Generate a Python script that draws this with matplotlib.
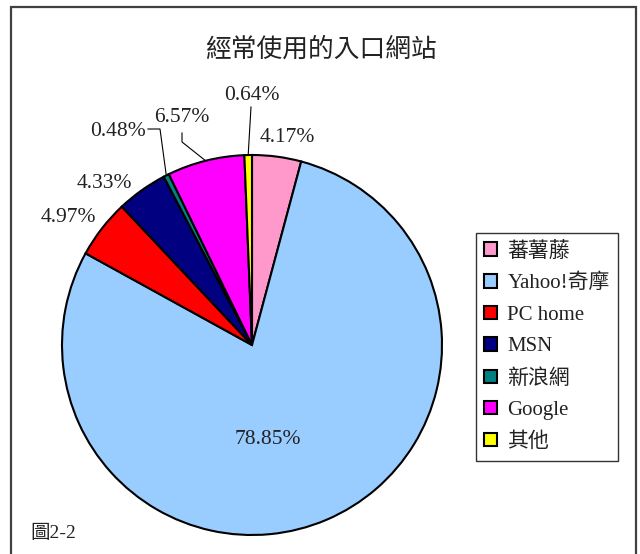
import numpy as np
import matplotlib
matplotlib.use("Agg")
import matplotlib.pyplot as plt
from matplotlib.patches import Rectangle

plt.rcParams['font.family'] = ['Liberation Serif', 'Noto Sans CJK TC', 'DejaVu Sans']

title = "經常使用的入口網站"
categories = ["蕃薯藤", "Yahoo!奇摩", "PC home", "MSN", "新浪網", "Google", "其他"]
values = [4.17, 78.85, 4.97, 4.33, 0.48, 6.57, 0.64]
colors = ["#FF99CC", "#99CCFF", "#FF0000", "#000080", "#008080", "#FF00FF", "#FFFF00"]
caption = "圖2-2"

W, H = 640, 554
fig = plt.figure(figsize=(W / 100, H / 100), dpi=100)

# figure frame
fig.patches.append(Rectangle((11 / W, -0.05), (636 - 11) / W, (H - 7) / H + 0.05,
                             transform=fig.transFigure, fill=False,
                             edgecolor="#404040", linewidth=1.6))

cx, cy, r = 252, 345, 190
ax = fig.add_axes([(cx - r) / W, (H - cy - r) / H, 2 * r / W, 2 * r / H])
ax.set_xlim(-1, 1)
ax.set_ylim(-1, 1)
ax.axis("off")

wedges, _ = ax.pie(values, colors=colors, startangle=90, counterclock=False,
                   radius=1,
                   wedgeprops=dict(edgecolor="black", linewidth=1.5))
ax.set_xlim(-1, 1)
ax.set_ylim(-1, 1)


def px(x, y):
    return (x - cx) / r, (cy - y) / r


# label positions (pixel centers) for each slice
label_pos = [(287, 138), (268, 440), (68, 217), (104, 183), (118, 132), (182, 118), (252, 96)]
for v, (lx, ly) in zip(values, label_pos):
    x, y = px(lx, ly)
    ax.text(x, y, f"{v:.2f}%", ha="center", va="center", fontsize=15.5, color="#222222",
            clip_on=False)


def mid_point(w):
    a = np.deg2rad((w.theta1 + w.theta2) / 2)
    return np.cos(a), np.sin(a)

# leader lines
ex, ey = mid_point(wedges[6])
p = px(251, 107)
ax.plot([p[0], ex], [p[1], ey], color="black", lw=0.8, clip_on=False)
ex, ey = mid_point(wedges[5])
p1 = px(182, 133); p2 = px(182, 142)
ax.plot([p1[0], p2[0], ex], [p1[1], p2[1], ey], color="black", lw=0.8, clip_on=False)
ex, ey = mid_point(wedges[4])
p1 = px(148, 129); p2 = px(160, 129)
ax.plot([p1[0], p2[0], ex], [p1[1], p2[1], ey], color="black", lw=0.8, clip_on=False)

fig.text(321 / W, 1 - 49 / H, title, ha="center", va="center", fontsize=18.5, color="#222222")
fig.text(30 / W, 1 - 533 / H, caption, ha="left", va="center", fontsize=14, color="#222222")

leg = fig.legend(wedges, categories, loc="upper left",
                 bbox_to_anchor=(476 / W, 1 - 233 / H),
                 frameon=True, fancybox=False, shadow=False,
                 fontsize=15, handlelength=0.6, handleheight=0.6,
                 handletextpad=0.5, labelspacing=0.6, borderpad=0.4,
                 borderaxespad=0)
leg.get_frame().set_edgecolor("black")
leg.get_frame().set_linewidth(1.0)
for t in leg.get_texts():
    t.set_color("#222222")

fig.savefig("out.png", dpi=100)
